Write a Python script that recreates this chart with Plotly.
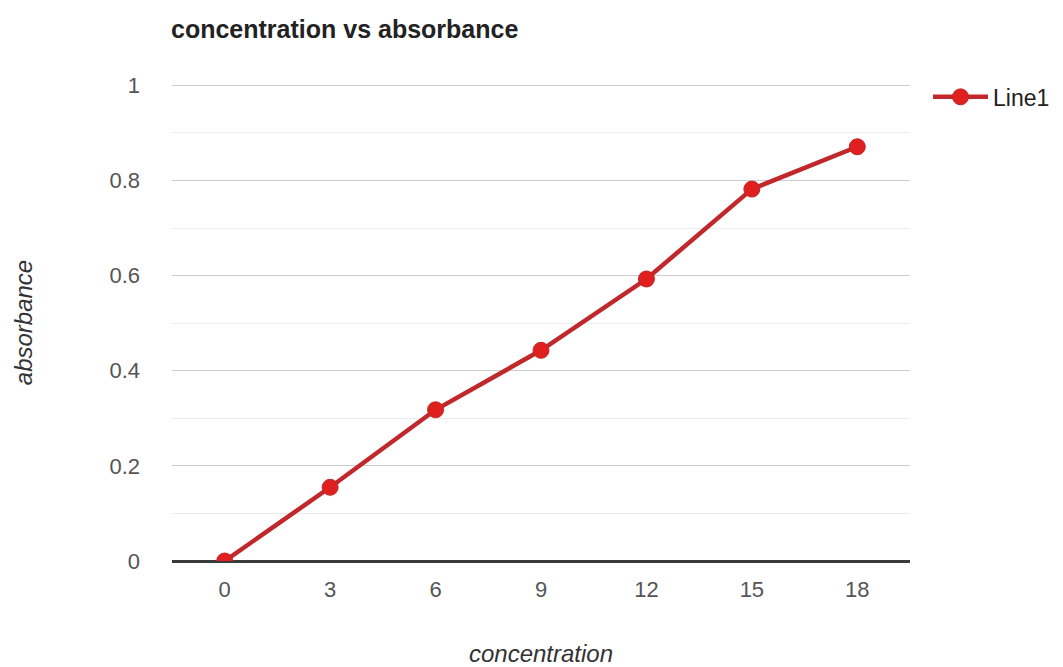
import plotly.graph_objects as go

# Calibration data: concentration vs measured absorbance
concentration = ["0", "3", "6", "9", "12", "15", "18"]
absorbance = [0.0, 0.155, 0.318, 0.443, 0.593, 0.782, 0.871]

y_ticks = [0, 0.2, 0.4, 0.6, 0.8, 1.0]
y_tick_text = ["0", "0.2", "0.4", "0.6", "0.8", "1"]

fig = go.Figure()
fig.add_trace(go.Scatter(
    x=concentration,
    y=absorbance,
    mode="lines+markers",
    name="Line1",
    line=dict(color="#c0282b", width=4.5),
    marker=dict(color="#e0201f", size=16, line=dict(color="#c0282b", width=1)),
))

fig.update_layout(
    width=1063,
    height=667,
    paper_bgcolor="white",
    plot_bgcolor="white",
    margin=dict(l=172, r=153, t=84, b=106, autoexpand=False),
    font=dict(family="Liberation Sans, Arial, sans-serif", color="#444444"),
    title=dict(
        text="<b>concentration vs absorbance</b>",
        x=171 / 1063, xanchor="left",
        y=1 - 29 / 667, yanchor="middle",
        font=dict(size=25, color="#222222"),
    ),
    showlegend=True,
    legend=dict(
        x=(928 - 172) / 738, xanchor="left",
        y=1.018, yanchor="top",
        itemwidth=55,
        font=dict(size=23, color="#222222"),
        bgcolor="rgba(0,0,0,0)",
    ),
    xaxis=dict(
        type="category",
        range=[-0.5, 6.5],
        showgrid=False,
        zeroline=False,
        showline=False,
        ticks="",
        ticklabelstandoff=13,
        tickfont=dict(size=22, color="#555555"),
        title=dict(text="<i>concentration</i>", font=dict(size=24, color="#333333"), standoff=44),
    ),
    yaxis=dict(
        range=[0, 1.003],
        tickvals=y_ticks,
        ticktext=y_tick_text,
        showgrid=True,
        gridcolor="#cccccc",
        gridwidth=1,
        minor=dict(dtick=0.1, showgrid=True, gridcolor="#ececec", gridwidth=1),
        zeroline=True,
        zerolinecolor="#3a3a3a",
        zerolinewidth=3,
        showline=False,
        ticks="",
        ticklabelstandoff=31,
        tickfont=dict(size=22, color="#555555"),
        title=dict(text="<i>absorbance</i>", font=dict(size=24, color="#333333"), standoff=70),
    ),
)

fig.write_html("out.html")
